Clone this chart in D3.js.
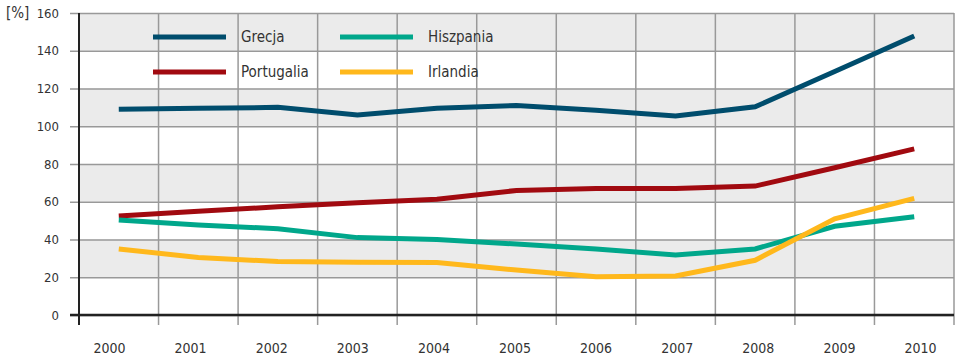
<!DOCTYPE html>
<html>
<head>
<meta charset="utf-8">
<script src="https://cdn.jsdelivr.net/npm/d3@7"></script>
<style>
  body { margin: 0; background: #fff; }
  svg text { font-family: "DejaVu Sans Condensed", "DejaVu Sans", sans-serif; fill: #333; }
</style>
</head>
<body>
<figure id="chart" style="margin:0"></figure>
<script>
let years = ['2000', '2001', '2002', '2003', '2004', '2005', '2006', '2007', '2008', '2009', '2010'];
let grecja = [109, 109.5, 110, 106, 109.5, 111, 108.5, 105.5, 110.3, 129, 147.8];
let portugalia = [52.5, 55, 57.3, 59.5, 61.3, 66, 67, 67, 68.3, 78, 88];
let hiszpania = [50.3, 47.7, 45.7, 41, 40, 37.6, 35, 31.8, 35, 47, 52.1];
let irlandia = [35, 30.5, 28.3, 28, 27.8, 23.8, 20.3, 20.7, 29, 51, 61.8];
let seriesNames = ['Grecja', 'Portugalia', 'Hiszpania', 'Irlandia'];
let yTicks = [0, 20, 40, 60, 80, 100, 120, 140, 160];

let widthFigure = 960;
let heightFigure = 357;
let plotLeft = 79, plotRight = 954, plotTop = 13, plotBottom = 315;

let colors = {
    Grecja: '#004d6d',
    Portugalia: '#a10a10',
    Hiszpania: '#00a78b',
    Irlandia: '#ffb81c'
};
let series = [
    {name: 'Grecja', values: grecja},
    {name: 'Portugalia', values: portugalia},
    {name: 'Hiszpania', values: hiszpania},
    {name: 'Irlandia', values: irlandia}
];

let xScale = d3.scaleBand().domain(years).range([plotLeft, plotRight]);
// the year labels sit on a slightly wider spacing than the bands
let labelScale = d3.scalePoint().domain(years).range([109, 920]);
let yScale = d3.scaleLinear().domain([0, 160]).range([plotBottom, plotTop]);

let svg = d3.select('#chart')
    .append('svg')
    .attr('width', widthFigure)
    .attr('height', heightFigure);

// alternating bands
let bands = d3.range(yTicks.length - 1).filter(i => i % 2 == 1);
svg.selectAll('rect.band')
    .data(bands)
    .enter()
    .append('rect')
    .attr('class', 'band')
    .attr('x', plotLeft)
    .attr('width', plotRight - plotLeft)
    .attr('y', i => yScale(yTicks[i + 1]))
    .attr('height', i => yScale(yTicks[i]) - yScale(yTicks[i + 1]))
    .attr('fill', '#ebebeb');

// horizontal grid + y labels
let yAxis = svg.append('g')
    .attr('transform', `translate(${plotLeft - 9},0)`)
    .call(d3.axisLeft(yScale).tickValues(yTicks).tickSize(-(plotRight - plotLeft + 9)).tickPadding(11));
yAxis.select('.domain').remove();
yAxis.selectAll('line').attr('stroke', '#999').attr('stroke-width', 1.5);
yAxis.selectAll('text').style('font-size', '13px').attr('fill', '#333');

// vertical grid at band edges
let edges = years.map(d => xScale(d) + xScale.bandwidth());
svg.selectAll('line.vgrid')
    .data(edges)
    .enter()
    .append('line')
    .attr('class', 'vgrid')
    .attr('x1', d => d).attr('x2', d => d)
    .attr('y1', plotTop).attr('y2', plotBottom + 10)
    .attr('stroke', '#999')
    .attr('stroke-width', 1.5);

// x labels
let xAxis = svg.append('g')
    .attr('transform', `translate(0,${plotBottom})`)
    .call(d3.axisBottom(labelScale).tickSize(0).tickPadding(28));
xAxis.select('.domain').remove();
xAxis.selectAll('text').style('font-size', '14px').attr('fill', '#333');

// axis lines
svg.append('line')
    .attr('x1', plotLeft - 9).attr('x2', plotRight)
    .attr('y1', yScale(0)).attr('y2', yScale(0))
    .attr('stroke', '#222').attr('stroke-width', 2.5);
svg.append('line')
    .attr('x1', plotLeft).attr('x2', plotLeft)
    .attr('y1', plotTop).attr('y2', plotBottom + 10)
    .attr('stroke', '#222').attr('stroke-width', 2);

svg.append('text')
    .attr('x', 6)
    .attr('y', yScale(160))
    .attr('dy', '0.32em')
    .style('font-size', '15px')
    .text('[%]');

// series
let line = d3.line()
    .x((d, i) => xScale(years[i]) + xScale.bandwidth() / 2)
    .y(d => yScale(d));

svg.selectAll('path.series')
    .data(series)
    .enter()
    .append('path')
    .attr('class', 'series')
    .attr('d', d => line(d.values))
    .attr('fill', 'none')
    .attr('stroke', d => colors[d.name])
    .attr('stroke-width', 5);

// legend
let legend = svg.selectAll('g.legend')
    .data(seriesNames)
    .enter()
    .append('g')
    .attr('class', 'legend')
    .attr('transform', (d, i) => `translate(${153 + Math.floor(i / 2) * 187},${37 + (i % 2) * 35})`);
legend.append('line')
    .attr('x1', 0).attr('x2', 73)
    .attr('stroke', d => colors[d])
    .attr('stroke-width', 5);
legend.append('text')
    .attr('x', 88)
    .attr('dy', '0.35em')
    .style('font-size', '15px')
    .text(d => d);
</script>
</body>
</html>
